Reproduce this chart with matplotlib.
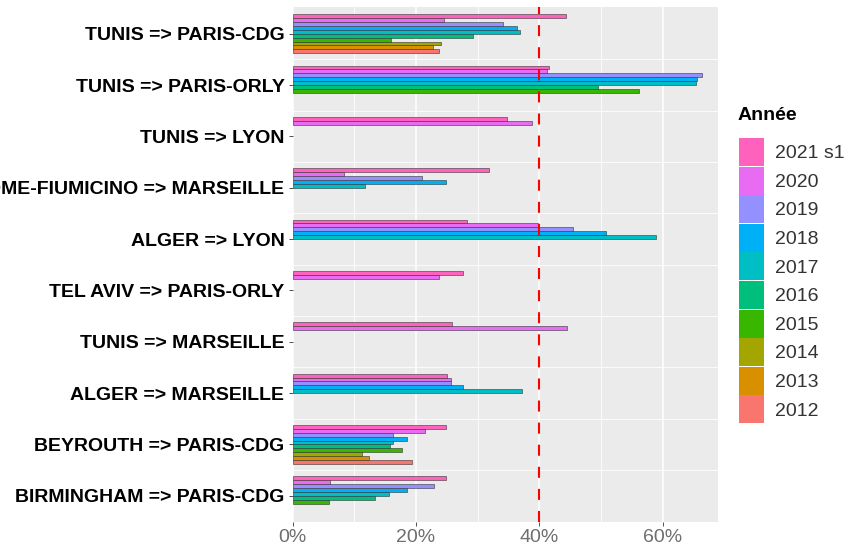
import matplotlib.pyplot as plt
import numpy as np
from matplotlib.patches import Patch

plt.rcParams["font.family"] = ["Liberation Sans", "DejaVu Sans"]

routes = [
    "TUNIS => PARIS-CDG",
    "TUNIS => PARIS-ORLY",
    "TUNIS => LYON",
    "ROME-FIUMICINO => MARSEILLE",
    "ALGER => LYON",
    "TEL AVIV => PARIS-ORLY",
    "TUNIS => MARSEILLE",
    "ALGER => MARSEILLE",
    "BEYROUTH => PARIS-CDG",
    "BIRMINGHAM => PARIS-CDG",
]
years = ["2012", "2013", "2014", "2015", "2016", "2017", "2018", "2019", "2020", "2021 s1"]
colors = ["#F8766D", "#D89000", "#A3A500", "#39B600", "#00BF7D",
          "#00BFC4", "#00B0F6", "#9590FF", "#E76BF3", "#FF62BC"]

nan = np.nan
# share (%) per route, columns in order 2012 ... 2021 s1
shares = {
    "TUNIS => PARIS-CDG": [23.7, 22.8, 24.0, 15.9, 29.2, 36.8, 36.4, 34.1, 24.5, 44.4],
    "TUNIS => PARIS-ORLY": [nan, nan, nan, 56.2, 49.6, 65.4, 65.6, 66.4, 41.3, 41.6],
    "TUNIS => LYON": [nan, nan, nan, nan, nan, nan, nan, nan, 38.8, 34.8],
    "ROME-FIUMICINO => MARSEILLE": [nan, nan, nan, nan, nan, 11.8, 24.9, 21.0, 8.3, 31.8],
    "ALGER => LYON": [nan, nan, nan, nan, nan, 59.0, 50.8, 45.5, 39.8, 28.3],
    "TEL AVIV => PARIS-ORLY": [nan, nan, nan, nan, nan, nan, nan, nan, 23.8, 27.6],
    "TUNIS => MARSEILLE": [nan, nan, nan, nan, nan, nan, nan, nan, 44.5, 25.8],
    "ALGER => MARSEILLE": [nan, nan, nan, nan, nan, 37.2, 27.7, 25.6, 25.6, 25.0],
    "BEYROUTH => PARIS-CDG": [19.3, 12.3, 11.2, 17.8, 15.8, 16.3, 18.6, 16.2, 21.4, 24.8],
    "BIRMINGHAM => PARIS-CDG": [nan, nan, nan, 5.9, 13.3, 15.7, 18.5, 23.0, 6.0, 24.8],
}
threshold = 40

fig = plt.figure(figsize=(8.48, 5.47), dpi=100)
ax = fig.add_axes([0.3452, 0.0457, 0.5015, 0.9415])
ax.set_facecolor("#EBEBEB")

n = len(routes)
ypos = np.arange(n, 0, -1)
h = 0.076
for j, (yr, col) in enumerate(zip(years, colors)):
    vals = [shares[r][j] for r in routes]
    offs = ypos + (j - 4.5) * h
    ax.barh(offs, vals, height=h, color=col, edgecolor="#333333",
            linewidth=0.4, zorder=3)

ax.axvline(threshold, color="red", linewidth=1.5, linestyle=(0, (5.3, 5.3)), zorder=4)

for x in [10, 30, 50]:
    ax.axvline(x, color="white", linewidth=0.6, zorder=1)
for x in [0, 20, 40, 60]:
    ax.axvline(x, color="white", linewidth=1.1, zorder=1)
for y in np.arange(1.5, n, 1):
    ax.axhline(y, color="white", linewidth=0.6, zorder=1)

ax.set_xlim(0, 69)
ax.set_ylim(0.49, n + 0.52)
ax.set_xticks([0, 20, 40, 60])
ax.set_xticklabels(["0%", "20%", "40%", "60%"])
ax.set_yticks(ypos)
ax.set_yticklabels(routes)
for lab in ax.get_yticklabels():
    lab.set_fontweight("bold")
ax.tick_params(axis="y", labelsize=14, labelcolor="black", color="#333333",
               length=3, width=0.6, pad=3)
ax.tick_params(axis="x", labelsize=14, labelcolor="#6E6E6E", color="#333333",
               length=3, width=0.6, pad=2)
for s in ax.spines.values():
    s.set_visible(False)

# legend (title drawn separately to get the ggplot spacing)
fig.text(738 / 848, 1 - 115 / 547, "Année", fontsize=14, fontweight="bold",
         ha="left", va="center")
handles = [Patch(facecolor=c, edgecolor="none") for c in colors[::-1]]
leg = fig.legend(handles, years[::-1], loc="upper left",
                 bbox_to_anchor=(739 / 848, 1 - 138 / 547), frameon=False,
                 fontsize=14, borderpad=0,
                 handlelength=1.3, handleheight=1.84, labelspacing=0.03,
                 handletextpad=0.55, borderaxespad=0)
for t in leg.get_texts():
    t.set_color("#333333")

fig.savefig("out.png", dpi=100)
